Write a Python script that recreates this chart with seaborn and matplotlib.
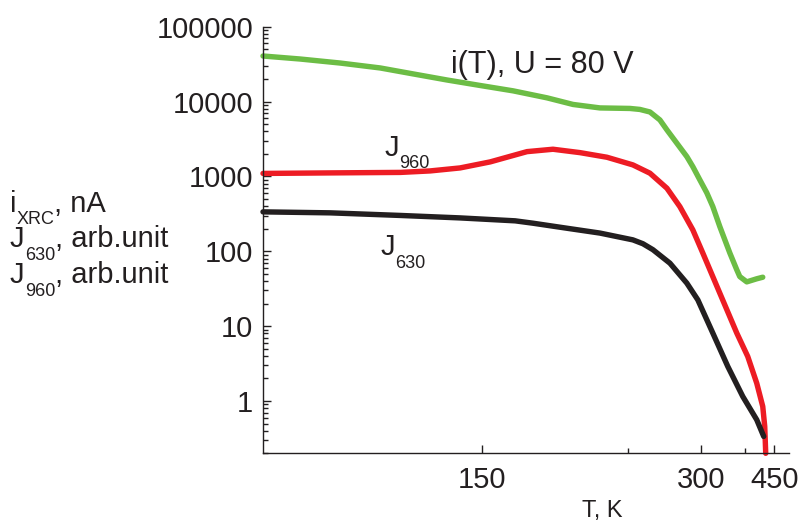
#!/usr/bin/env python3
"""Temperature dependence of XRC current and luminescence bands (1/T axis)."""

import matplotlib
matplotlib.use("Agg")
import matplotlib.pyplot as plt
import numpy as np
import pandas as pd
import seaborn as sns
from matplotlib.ticker import LogLocator, NullFormatter

# i(T), U = 80 V  (green)
T_CURRENT = [100, 106.0, 113.3, 121.7, 129.6, 138.9, 149.3, 161.4, 176.1, 189.2,
             205.1, 226.3, 234.3, 243.0, 252.3, 259.3, 281.4, 288.8, 298.0,
             307.7, 316.6, 327.6, 344.8, 357.9, 363.8, 378.4, 401.5, 416.8]
I_CURRENT = [40600, 37000, 32700, 28100, 23400, 19400, 16400, 13900, 11200, 9150,
             8220, 8090, 7850, 7260, 5680, 4180, 1838, 1350, 898,
             603, 395, 214, 95, 56.5, 45.9, 39, 42.9, 45]

# J960 (red)
T_J960 = [100, 111.4, 126.4, 134.1, 142.8, 152.8, 162.2, 167.1, 178.9, 193.1,
          209.7, 228.6, 243.0, 259.3, 273.2, 288.8, 302.1, 327.6, 357.9, 380.6,
          401.5, 416.8, 422.1, 424.8]
J960 = [1096, 1114, 1131, 1184, 1298, 1563, 1936, 2143, 2307, 2078,
        1803, 1425, 1104, 695, 395, 193, 94.4, 27.6, 8.07, 3.93,
        1.73, 0.845, 0.457, 0.2]

# J630 (black)
T_J630 = [100, 111.4, 126.4, 142.8, 162.2, 169.7, 186.0, 205.1, 228.6, 236.9,
          245.7, 262.4, 281.4, 295.3, 316.6, 341.2, 369.9, 401.5, 419.4]
J630 = [336, 326, 301, 279, 255, 237, 203, 175, 142, 126,
        105, 69.3, 37.5, 22.4, 8.07, 2.89, 1.15, 0.561, 0.336]

X_MAJOR = [150, 300, 450]
X_MINOR = [225, 375]
Y_MAJOR = [1, 10, 100, 1000, 10000, 100000]

FONT = "Liberation Sans"
INK = "#231f20"
W, H = 800, 522


def rich_text(fig, x, y, parts, size=21, subsize=13, drop=12.5):
    """Write text pieces left to right, subscripts set lower and smaller (pixel coords)."""
    renderer = fig.canvas.get_renderer()
    for s, sub in parts:
        t = fig.text(x / W, 1 - (y + (drop if sub else 0)) / H, s,
                     fontsize=subsize if sub else size, color=INK,
                     ha="left", va="baseline")
        x += t.get_window_extent(renderer).width


def main():
    sns.set_style("ticks")
    plt.rcParams["font.family"] = [FONT, "DejaVu Sans"]

    df = pd.concat([
        pd.DataFrame({"T": T_CURRENT, "val": I_CURRENT, "series": "i"}),
        pd.DataFrame({"T": T_J960, "val": J960, "series": "J960"}),
        pd.DataFrame({"T": T_J630, "val": J630, "series": "J630"}),
    ], ignore_index=True)

    fig = plt.figure(figsize=(W / 100, H / 100), dpi=100)
    ax = fig.add_axes([263 / W, 1 - 453.3 / H, (789 - 263) / W, (453.3 - 26.7) / H])

    sns.lineplot(
        data=df, x="T", y="val", hue="series",
        palette={"i": "#6cbd45", "J960": "#ed1c24", "J630": INK},
        sort=False, linewidth=3.9, legend=False, ax=ax, clip_on=False,
        solid_joinstyle="round", solid_capstyle="round",
    )

    def fwd(t):
        with np.errstate(divide="ignore"):
            return -1.0 / np.asarray(t, dtype=float)

    ax.set_xscale("function", functions=(fwd, fwd))
    ax.set_yscale("log")
    ax.set_xlim(100, 500)
    ax.set_ylim(0.2, 1e5)

    ax.set_xticks(X_MAJOR, labels=[str(v) for v in X_MAJOR])
    ax.set_xticks(X_MINOR, minor=True)
    ax.set_xticklabels([], minor=True)
    ax.set_yticks(Y_MAJOR, labels=[str(v) for v in Y_MAJOR])
    ax.yaxis.set_minor_locator(LogLocator(base=10, subs=np.arange(2, 10)))
    ax.yaxis.set_minor_formatter(NullFormatter())

    ax.tick_params(which="both", direction="in", width=1.0, color=INK,
                   labelsize=21, labelcolor=INK)
    ax.tick_params(which="major", length=6)
    ax.tick_params(which="minor", length=3.5)
    ax.tick_params(axis="y", pad=7)
    ax.tick_params(axis="x", pad=9)

    sns.despine(ax=ax)
    for s in ("left", "bottom"):
        ax.spines[s].set_linewidth(1.0)
        ax.spines[s].set_color(INK)
    ax.set_xlabel("")
    ax.set_ylabel("")

    fig.text(602 / W, 1 - 517 / H, "T, K", fontsize=17, ha="center",
             va="baseline", color=INK)

    rich_text(fig, 10, 212, [("i", False), ("XRC", True), (", nA", False)])
    rich_text(fig, 10, 247, [("J", False), ("630", True), (", arb.unit", False)])
    rich_text(fig, 10, 283, [("J", False), ("960", True), (", arb.unit", False)])

    fig.text(451 / W, 1 - 73 / H, "i(T), U = 80 V", fontsize=22, color=INK,
             ha="left", va="baseline")
    rich_text(fig, 385, 156, [("J", False), ("960", True)])
    rich_text(fig, 381, 255, [("J", False), ("630", True)])

    fig.savefig("out.png", dpi=100)
    plt.close(fig)


if __name__ == "__main__":
    main()
